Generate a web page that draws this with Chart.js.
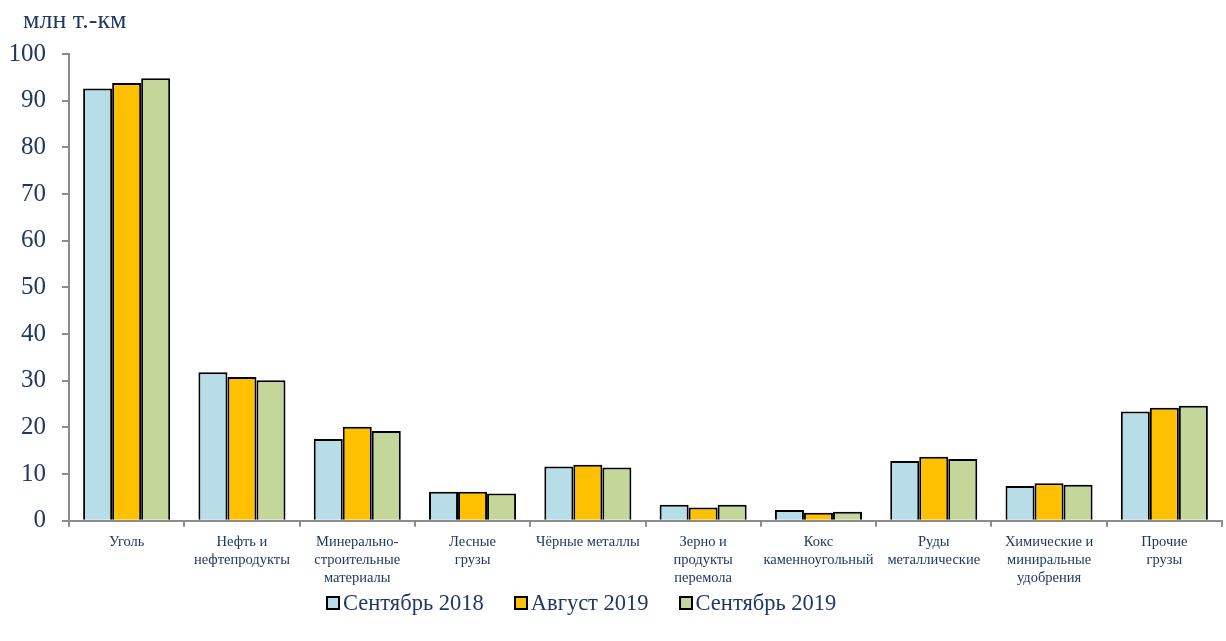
<!DOCTYPE html>
<html>
<head>
<meta charset="utf-8">
<script src="https://cdn.jsdelivr.net/npm/chart.js@4/dist/chart.umd.min.js"></script>
<style>
  html, body { margin: 0; padding: 0; background: #fff; }
  #wrap { width: 1226px; height: 641px; position: relative; }
  #legend {
    position: absolute; left: 326px; top: 590px; height: 26px;
    display: flex; align-items: center;
    font-family: 'Liberation Serif', 'Times New Roman', serif;
    font-size: 22.5px; color: #1f3864; white-space: nowrap;
  }
  #legend .item { display: flex; align-items: center; margin-right: 30px; }
  #legend .box {
    width: 14px; height: 14px; box-sizing: border-box;
    border: 2px solid #000; margin-right: 3px;
  }
</style>
</head>
<body>
<div id="wrap"><canvas id="freightChart"></canvas><div id="legend"></div></div>
<script>
const categories = [
  "Уголь",
  ["Нефть и", "нефтепродукты"],
  ["Минерально-", "строительные", "материалы"],
  ["Лесные", "грузы"],
  "Чёрные металлы",
  ["Зерно и", "продукты", "перемола"],
  ["Кокс", "каменноугольный"],
  ["Руды", "металлические"],
  ["Химические и", "миниральные", "удобрения"],
  ["Прочие", "грузы"],
];

const sep2018 = [92.6, 31.8, 17.5, 6.2, 11.6, 3.4, 2.3, 12.8, 7.4, 23.4];
const aug2019 = [93.8, 30.8, 20.1, 6.2, 12.0, 2.8, 1.7, 13.7, 8.0, 24.2];
const sep2019 = [94.8, 30.1, 19.2, 5.8, 11.4, 3.4, 1.9, 13.2, 7.7, 24.6];

const seriesNames = ["Сентябрь 2018", "Август 2019", "Сентябрь 2019"];
const seriesColors = ["#b7dde8", "#ffc000", "#c4d79b"];
const yTicks = [0, 10, 20, 30, 40, 50, 60, 70, 80, 90, 100];
const unitLabel = "млн т.-км";

const TEXT = "#1f3864";
const AXIS = "#8c8c8c";
const FONT = "'Liberation Serif', 'Times New Roman', serif";

// подпись единиц над осью Y
const unitPlugin = {
  id: "unitLabel",
  afterDraw(chart) {
    const { ctx, chartArea } = chart;
    ctx.save();
    ctx.font = `26px ${FONT}`;
    ctx.fillStyle = TEXT;
    ctx.textBaseline = "middle";
    ctx.textAlign = "left";
    ctx.fillText(unitLabel, chartArea.left - 46, 21);
    ctx.restore();
  },
};

const datasets = [sep2018, aug2019, sep2019].map((values, index) => ({
  label: seriesNames[index],
  data: values,
  backgroundColor: seriesColors[index],
  borderColor: "#000",
  borderWidth: 2,
  borderSkipped: "bottom",
  barPercentage: 1,
  categoryPercentage: 0.755,
}));

function buildLegend() {
  const legend = document.getElementById("legend");
  seriesNames.forEach((name, index) => {
    const item = document.createElement("span");
    item.className = "item";
    const box = document.createElement("span");
    box.className = "box";
    box.style.background = seriesColors[index];
    item.appendChild(box);
    item.appendChild(document.createTextNode(name));
    legend.appendChild(item);
  });
}

buildLegend();

new Chart(document.getElementById("freightChart"), {
  type: "bar",
  data: { labels: categories, datasets },
  plugins: [unitPlugin],
  options: {
    responsive: true,
    maintainAspectRatio: false,
    animation: false,
    layout: { padding: { top: 54, right: 4, bottom: 48, left: 0 } },
    plugins: {
      legend: { display: false },
      tooltip: { enabled: false },
    },
    scales: {
      x: {
        grid: {
          display: true,
          drawOnChartArea: false,
          drawTicks: true,
          tickLength: 6,
          color: AXIS,
          lineWidth: 2,
        },
        border: { display: true, color: AXIS, width: 2 },
        ticks: {
          color: TEXT,
          font: { family: FONT, size: 14.5, lineHeight: 1.25 },
          padding: 6,
          maxRotation: 0,
          autoSkip: false,
        },
      },
      y: {
        min: 0,
        max: 100,
        afterBuildTicks: scale => {
          scale.ticks = yTicks.map(value => ({ value }));
        },
        afterFit: scale => {
          scale.width = 69;
        },
        grid: {
          display: true,
          drawOnChartArea: false,
          drawTicks: true,
          tickLength: 7,
          color: AXIS,
          lineWidth: 2,
        },
        border: { display: true, color: AXIS, width: 2 },
        ticks: {
          color: TEXT,
          font: { family: FONT, size: 25 },
          padding: 16,
        },
      },
    },
  },
});
</script>
</body>
</html>
